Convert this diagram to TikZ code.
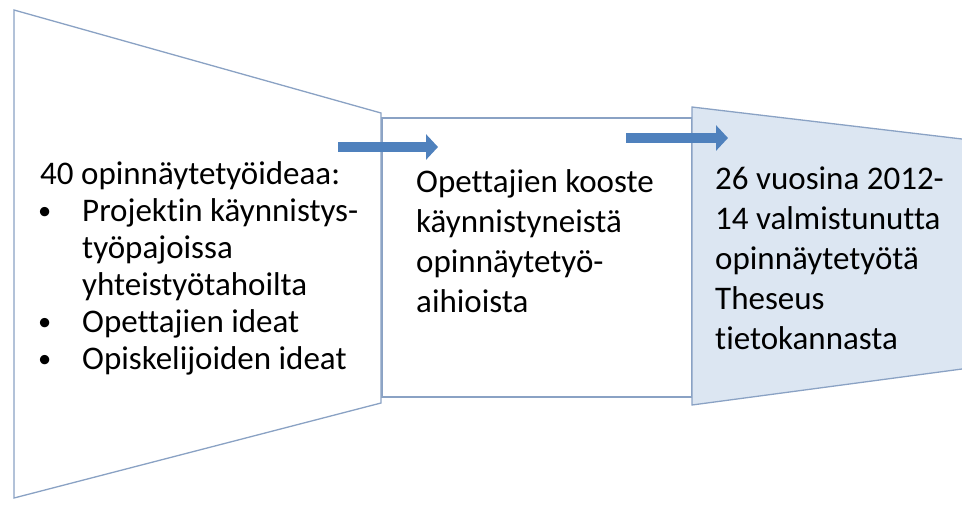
\documentclass[tikz,border=0pt]{standalone}
\usepackage{fontspec}
\usepackage{graphicx}
\setmainfont{Carlito}[Ligatures=NoCommon]
\usetikzlibrary{arrows.meta}
\definecolor{edge}{HTML}{8AA2C4}
\definecolor{pale}{HTML}{DCE6F2}
\definecolor{arrowblue}{HTML}{4F81BD}
\tikzset{
  funnel/.style={draw=edge, line width=1.3pt},
  blockarrow/.style={draw=arrowblue, line width=10pt, line cap=butt,
    -{Triangle[width=25pt, length=12pt, fill=arrowblue]}},
  txt/.style={anchor=north west, inner sep=0pt, align=left, text width=#1},
}
\newcommand{\firstline}{\rule{0pt}{30pt}}
\newcommand{\bul}{\makebox[42pt][l]{\hspace{-2pt}\raisebox{2pt}{\scalebox{0.8}{•}}}}
\begin{document}
\begin{tikzpicture}[x=1pt,y=-1pt]
\useasboundingbox (0,0) rectangle (962,507);
\begin{scope}
\clip (0,0) rectangle (962,507);
% middle rectangle
\draw[funnel, fill=white] (382,118) rectangle (692,397);
% left trapezoid
\draw[funnel, fill=white] (14,10) -- (381,113) -- (381,403) -- (14,498) -- cycle;
% right trapezoid
\draw[funnel, fill=pale] (692,107) -- (962,139) -- (1010,139) -- (1010,369) -- (962,369) -- (692,405) -- cycle;
\end{scope}
% arrows
\coordinate (a1s) at (338,147);
\coordinate (a1e) at (438,147);
\coordinate (a2s) at (626,138);
\coordinate (a2e) at (728,138);
\draw[blockarrow] (a1s) -- (a1e);
\draw[blockarrow] (a2s) -- (a2e);
% texts
\node[txt=340pt, font=\fontsize{33}{37}\selectfont] (t1) at (40,154) {%
\spaceskip=\fontdimen2\font\relax
\firstline 40 opinnäytetyöideaa:\\
\bul Projektin käynnistys-\\
\hspace*{42pt}työpajoissa\\
\hspace*{42pt}yhteistyötahoilta\\
\bul Opettajien ideat\\
\bul Opiskelijoiden ideat};
\node[txt=270pt, font=\fontsize{33}{40}\selectfont] (t2) at (416,162) {%
\spaceskip=\fontdimen2\font\relax
\firstline Opettajien kooste\\
käynnistyneistä\\
opinnäytetyö-\\
aihioista};
\node[txt=260pt, font=\fontsize{33}{40}\selectfont] (t3) at (715,159) {%
\spaceskip=\fontdimen2\font\relax
\firstline 26 vuosina 2012-\\
14 valmistunutta\\
opinnäytetyötä\\
Theseus\\
tietokannasta};
\end{tikzpicture}
\end{document}
